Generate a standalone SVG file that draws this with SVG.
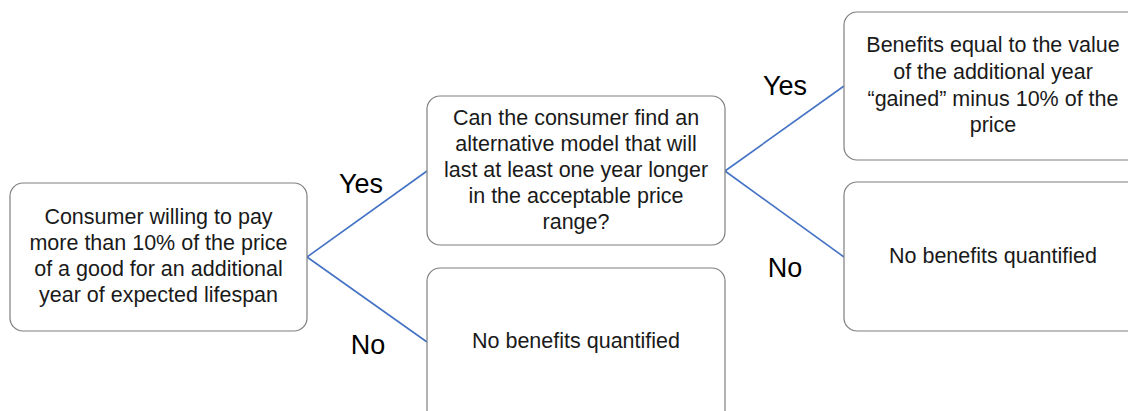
<svg xmlns="http://www.w3.org/2000/svg" width="1128" height="411" viewBox="0 0 1128 411">
<style>
.box{fill:#fff;stroke:#7f7f7f;stroke-width:1.2}
.t{font-family:"Liberation Sans",Arial,sans-serif;font-size:21.5px;fill:#1a1a1a;text-anchor:middle}
.lbl{font-family:"Liberation Sans",Arial,sans-serif;font-size:27px;fill:#000;text-anchor:middle}
.c{stroke:#4472c4;stroke-width:1.6;fill:none}
</style>
<rect width="1128" height="411" fill="#fff"/>
<g id="connectors">
<path class="c" d="M307,257 L427,171"/>
<path class="c" d="M307,257 L427,342"/>
<path class="c" d="M725,171 L844,86"/>
<path class="c" d="M725,171 L844,257"/>
<text class="lbl" x="361" y="193">Yes</text>
<text class="lbl" x="368" y="354">No</text>
<text class="lbl" x="785" y="95">Yes</text>
<text class="lbl" x="785" y="277">No</text>
</g>
<g id="n1">
<rect class="box" x="10" y="183" width="297" height="148" rx="13"/>
<text class="t" x="158.5" y="224">Consumer willing to pay</text>
<text class="t" x="158.5" y="250">more than 10% of the price</text>
<text class="t" x="158.5" y="276">of a good for an additional</text>
<text class="t" x="158.5" y="302">year of expected lifespan</text>
</g>
<g id="n2">
<rect class="box" x="427" y="96" width="298" height="149" rx="13"/>
<text class="t" x="576" y="125">Can the consumer find an</text>
<text class="t" x="576" y="151">alternative model that will</text>
<text class="t" x="576" y="177">last at least one year longer</text>
<text class="t" x="576" y="203">in the acceptable price</text>
<text class="t" x="576" y="229">range?</text>
</g>
<g id="n3">
<rect class="box" x="844" y="12" width="300" height="148" rx="13"/>
<text class="t" x="993" y="52">Benefits equal to the value</text>
<text class="t" x="993" y="79">of the additional year</text>
<text class="t" x="993" y="106">“gained” minus 10% of the</text>
<text class="t" x="993" y="132">price</text>
</g>
<g id="n4">
<rect class="box" x="427" y="268" width="298" height="160" rx="13"/>
<text class="t" x="576" y="348">No benefits quantified</text>
</g>
<g id="n5">
<rect class="box" x="844" y="182" width="300" height="149" rx="13"/>
<text class="t" x="993" y="263">No benefits quantified</text>
</g>
</svg>
